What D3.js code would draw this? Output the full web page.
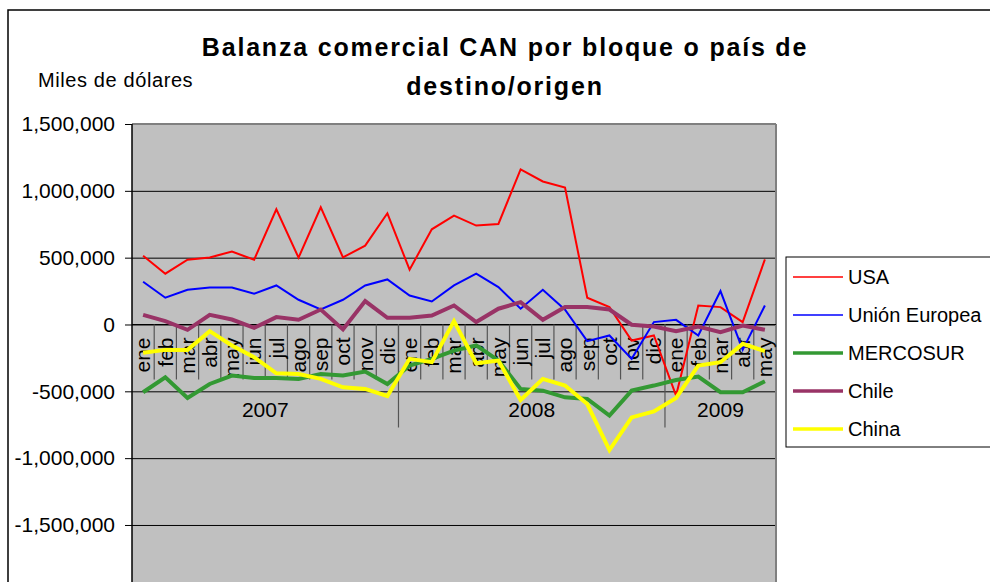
<!DOCTYPE html>
<html><head><meta charset="utf-8">
<script src="https://cdn.jsdelivr.net/npm/d3@7"></script>
<style>
html,body{margin:0;padding:0;background:#fff;}
svg text{font-family:"Liberation Sans",Arial,sans-serif;fill:#000;}
</style></head>
<body><svg id="c" width="990" height="582"></svg>
<script>
// ---- data (miles de dólares) ----
const months = ["ene","feb","mar","abr","may","jun","jul","ago","sep","oct","nov","dic"];
const years = ["2007","2008","2009"];
const monthsPerYear = [12,12,5];
const yTicks = [1500000,1000000,500000,0,-500000,-1000000,-1500000];
const seriesNames = ["USA","Unión Europea","MERCOSUR","Chile","China"];
const usa = [515,380,485,502,545,485,862,500,877,502,590,832, 410,712,815,740,752,1160,1070,1025,200,130,-120,-82, -532,142,130,18,487];
const ue = [320,200,260,277,277,230,292,185,112,185,292,337, 217,172,292,380,280,118,260,110,-125,-82,-257,18, 35,-82,250,-190,142];
const mercosur = [-507,-395,-550,-445,-382,-400,-400,-407,-370,-382,-352,-445, -307,-257,-195,-157,-270,-482,-495,-545,-557,-682,-495,-457, -415,-390,-507,-507,-425];
const chile = [72,25,-40,72,37,-25,55,35,112,-37,175,50, 50,67,142,18,118,167,35,130,130,112,-2,-15, -50,-15,-57,-8,-40];
const china = [-212,-190,-190,-50,-157,-245,-365,-370,-407,-470,-482,-535, -257,-282,25,-290,-270,-565,-407,-457,-595,-940,-695,-650, -550,-307,-282,-145,-200];

// ---- build categories ----
const cats = [];
years.forEach((yr,yi)=>{ for(let m=0;m<monthsPerYear[yi];m++) cats.push({year:yr, month:months[m]}); });
const allSeries = [usa,ue,mercosur,chile,china];
const colors = ["#FF0000","#0000FF","#339933","#993366","#FFFF00"];
const widths = [2,2,4,4,4];

const svg = d3.select("#c");
const L=132, R=776;
const x = d3.scaleBand().domain(d3.range(cats.length)).range([L,R]);
const y = d3.scaleLinear().domain([-2000000,1500000]).range([591.8,124]);
const cx = i => x(i)+x.bandwidth()/2;

// outer border
svg.append("rect").attr("x",8).attr("y",10).attr("width",1000).attr("height",600)
  .attr("fill","#fff").attr("stroke","#000").attr("stroke-width",1.5);

// plot background
svg.append("rect").attr("x",L).attr("y",y(1500000)).attr("width",R-L).attr("height",y(-2000000)-y(1500000))
  .attr("fill","#C0C0C0");

// gridlines
svg.append("g").attr("transform",`translate(${L},0)`)
  .call(d3.axisLeft(y).tickValues(yTicks).tickSize(-(R-L)).tickFormat(""))
  .call(g=>{g.select(".domain").remove(); g.selectAll("line").attr("stroke","#000").attr("stroke-width",1);});

// plot border top/right
svg.append("line").attr("x1",L).attr("x2",R).attr("y1",y(1500000)).attr("y2",y(1500000)).attr("stroke","#808080").attr("stroke-width",2);
svg.append("line").attr("x1",R).attr("x2",R).attr("y1",y(1500000)).attr("y2",y(-2000000)).attr("stroke","#808080").attr("stroke-width",2);

// category axis at 0
const y0 = y(0);
svg.append("line").attr("x1",L).attr("x2",R).attr("y1",y0).attr("y2",y0).attr("stroke","#000").attr("stroke-width",1.2);
// month separators
const gx = svg.append("g");
for(let i=1;i<cats.length;i++){
  gx.append("line").attr("x1",x(i)).attr("x2",x(i)).attr("y1",y0).attr("y2",y0+55).attr("stroke","#555").attr("stroke-width",1.2);
}
// year separators
let start=0;
years.forEach((yr,yi)=>{
  const end = start+monthsPerYear[yi];
  const xs = x(start), xe = end<cats.length ? x(end) : R;
  if(end<cats.length) gx.append("line").attr("x1",xe).attr("x2",xe).attr("y1",y0).attr("y2",y0+103).attr("stroke","#555").attr("stroke-width",1.2);
  gx.append("text").attr("x",(xs+xe)/2).attr("y",y0+93).attr("text-anchor","middle").attr("font-size",21).text(yr);
  start=end;
});
// month labels
cats.forEach((c,i)=>{
  gx.append("text").attr("transform",`translate(${cx(i)},${y0+13}) rotate(-90)`)
    .attr("text-anchor","end").attr("dy","0.35em").attr("font-size",21).text(c.month);
});

// y axis
const fmt = d3.formatLocale({decimal:".",thousands:",",grouping:[3],currency:["$",""],minus:"-"}).format(",");
svg.append("g").attr("transform",`translate(${L},0)`)
  .call(d3.axisLeft(y).tickValues(yTicks).tickSize(7).tickPadding(10).tickFormat(fmt))
  .call(g=>{
    g.select(".domain").attr("d",`M0,${y(1500000)}V${y(-2000000)}`).attr("stroke","#000").attr("stroke-width",1.5);
    g.selectAll("line").attr("stroke","#000");
    g.selectAll("text").attr("font-size",21).attr("font-family","Liberation Sans, Arial, sans-serif").attr("fill","#000");
  });

// lines
const line = d3.line().x((d,i)=>cx(i)).y(d=>y(d*1000));
allSeries.forEach((s,k)=>{
  svg.append("path").datum(s).attr("d",line).attr("fill","none")
    .attr("stroke",colors[k]).attr("stroke-width",widths[k]).attr("stroke-linejoin","miter");
});

// titles
svg.append("text").attr("x",505).attr("y",56).attr("text-anchor","middle").attr("font-size",25)
  .attr("font-weight","bold").attr("letter-spacing",1.8).text("Balanza comercial CAN por bloque o país de");
svg.append("text").attr("x",505).attr("y",95).attr("text-anchor","middle").attr("font-size",25)
  .attr("font-weight","bold").attr("letter-spacing",1.8).text("destino/origen");
svg.append("text").attr("x",38).attr("y",87).attr("font-size",20).attr("letter-spacing",0.6).text("Miles de dólares");

// legend
const lg = svg.append("g");
lg.append("rect").attr("x",786).attr("y",257).attr("width",220).attr("height",190).attr("fill","#fff").attr("stroke","#000").attr("stroke-width",1);
seriesNames.forEach((n,k)=>{
  const yy = 277+38*k;
  lg.append("line").attr("x1",793).attr("x2",843).attr("y1",yy).attr("y2",yy).attr("stroke",colors[k]).attr("stroke-width",widths[k]===2?1.5:3.5);
  lg.append("text").attr("x",848).attr("y",yy).attr("dy","0.35em").attr("font-size",20).text(n);
});
</script></body></html>
